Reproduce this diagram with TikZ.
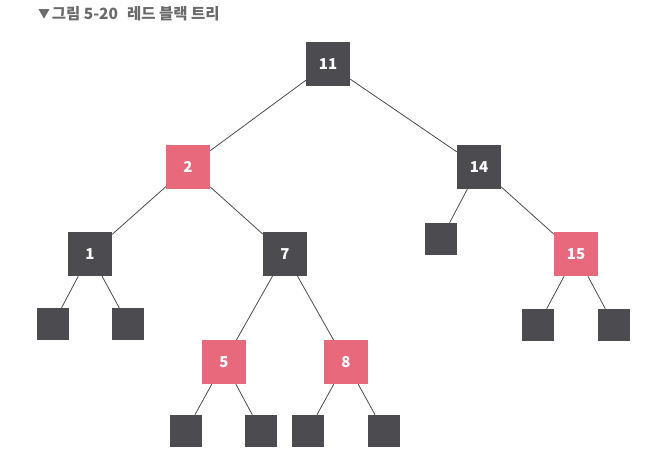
\documentclass[tikz,border=0pt]{standalone}
\usepackage{fontspec}
\setmainfont{Noto Sans CJK KR}
\usepackage{tikz}
\usetikzlibrary{positioning}

\definecolor{nodegray}{HTML}{4B4B50}
\definecolor{nodered}{HTML}{E8697C}
\definecolor{titlegray}{HTML}{6A6A6A}

\begin{document}
\begin{tikzpicture}[x=1pt, y=-1pt,
    blacknode/.style={draw=none, fill=nodegray, minimum size=44pt, inner sep=0pt, text=white, font=\fontsize{15}{17}\selectfont\bfseries},
    rednode/.style={blacknode, fill=nodered},
    nilnode/.style={draw=none, fill=nodegray, minimum size=32pt, inner sep=0pt},
    edge/.style={draw=nodegray, line width=0.8pt}]
    \useasboundingbox (0,0) rectangle (651,473);

    % Title
    \node[anchor=west, text=titlegray, font=\bfseries\fontsize{15.5}{17}\selectfont, inner sep=0pt] (title) at (38,14) {\raisebox{0.08em}{\fontsize{12}{12}\selectfont▼}\hspace{0.1em}그림 5-20\hspace{0.35em} 레드 블랙 트리};

    % Internal nodes
    \node[blacknode] (n11) at (328,64) {11};
    \node[rednode]   (n2)  at (188,167) {2};
    \node[blacknode] (n14) at (479,167) {14};
    \node[blacknode] (n1)  at (90,254) {1};
    \node[blacknode] (n7)  at (285,254) {7};
    \node[rednode]   (n15) at (576,254) {15};
    \node[rednode]   (n5)  at (224,362) {5};
    \node[rednode]   (n8)  at (346,362) {8};

    % NIL leaves
    \node[nilnode] (l14)  at (441,239) {};
    \node[nilnode] (l1a)  at (53,324) {};
    \node[nilnode] (l1b)  at (128,324) {};
    \node[nilnode] (l15a) at (538,325) {};
    \node[nilnode] (l15b) at (614,325) {};
    \node[nilnode] (l5a)  at (186,431) {};
    \node[nilnode] (l5b)  at (261,431) {};
    \node[nilnode] (l8a)  at (308,431) {};
    \node[nilnode] (l8b)  at (384,431) {};

    % Edges
    \draw[edge] (n11) -- (n2);
    \draw[edge] (n11) -- (n14);
    \draw[edge] (n2) -- (n1);
    \draw[edge] (n2) -- (n7);
    \draw[edge] (n14) -- (l14);
    \draw[edge] (n14) -- (n15);
    \draw[edge] (n1) -- (l1a);
    \draw[edge] (n1) -- (l1b);
    \draw[edge] (n7) -- (n5);
    \draw[edge] (n7) -- (n8);
    \draw[edge] (n15) -- (l15a);
    \draw[edge] (n15) -- (l15b);
    \draw[edge] (n5) -- (l5a);
    \draw[edge] (n5) -- (l5b);
    \draw[edge] (n8) -- (l8a);
    \draw[edge] (n8) -- (l8b);
\end{tikzpicture}
\end{document}
